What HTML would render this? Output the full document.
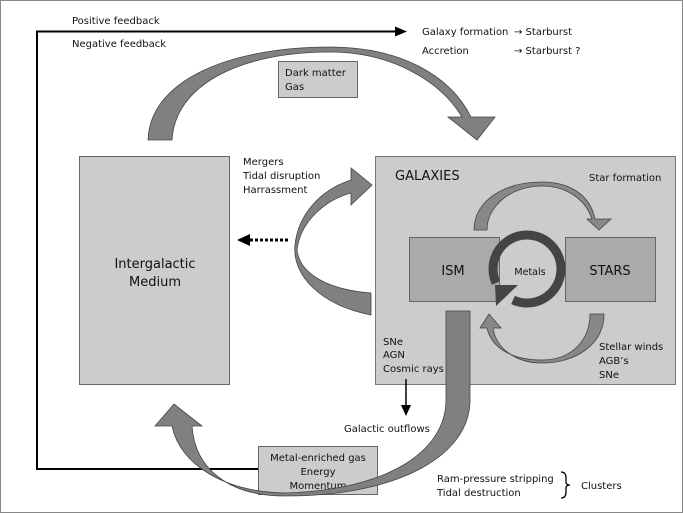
<!DOCTYPE html>
<html><head><meta charset="utf-8"><style>
html,body{margin:0;padding:0;background:#fff;}
svg{display:block;}
text{font-family:"DejaVu Sans","Liberation Sans",sans-serif;fill:#111;}
</style></head><body>
<svg width="684" height="513" viewBox="0 0 684 513" xmlns="http://www.w3.org/2000/svg">
<rect x="0.5" y="0.5" width="682" height="512" fill="#fff" stroke="#888" stroke-width="1"/>
<!-- feedback line -->
<polyline points="258,469 37,469 37,31.5 397,31.5" fill="none" stroke="#000" stroke-width="2"/>
<polygon points="395,26.5 407,31.5 395,36.5" fill="#000"/>
<g font-size="10">
<text x="72" y="24">Positive feedback</text>
<text x="72" y="47">Negative feedback</text>
<text x="422" y="35">Galaxy formation</text>
<text x="514" y="35">→ Starburst</text>
<text x="422" y="54">Accretion</text>
<text x="514" y="54">→ Starburst ?</text>
</g>
<!-- big top arc -->
<path d="M148,140 C150,80 230,47 330,47 C400,47 450,75 471,117 L495,117 L477,140 L448,117 L462,117 C440,80 390,52 330,52 C240,52 175,85 172,140 Z" fill="#808080" stroke="#444" stroke-width="0.8"/>
<rect x="278.5" y="61.5" width="79" height="36" fill="#ccc" stroke="#666"/>
<text x="285" y="76" font-size="10">Dark matter</text>
<text x="285" y="90" font-size="10">Gas</text>
<!-- IGM -->
<rect x="79.5" y="156.5" width="150" height="228" fill="#ccc" stroke="#666"/>
<text x="155" y="268" font-size="13" text-anchor="middle">Intergalactic</text>
<text x="155" y="286" font-size="13" text-anchor="middle">Medium</text>
<g font-size="10">
<text x="243" y="165">Mergers</text>
<text x="243" y="179">Tidal disruption</text>
<text x="243" y="193">Harrassment</text>
</g>
<!-- dotted arrow -->
<line x1="250" y1="240" x2="288" y2="240" stroke="#000" stroke-width="3" stroke-dasharray="3,2"/>
<polygon points="237,240 250,234 250,246" fill="#000"/>
<!-- galaxies -->
<rect x="375.5" y="156.5" width="300" height="228" fill="#ccc" stroke="#777"/>
<!-- left crescent -->
<path d="M371,315 C320,305 292,275 295,245 C298,215 320,190 351,180 L351,168 L372,185 L351,205 L351,193 C325,200 300,222 297,250 C300,275 330,290 371,293 Z" fill="#808080" stroke="#444" stroke-width="0.8"/>
<text x="395" y="180" font-size="13">GALAXIES</text>
<text x="589" y="181" font-size="10">Star formation</text>
<!-- star formation arc -->
<path d="M474,230 C474,200 505,182 542,182 C570,182 590,195 595,219 L611,219 L599,230 L587,219 L592,219 C585,198 565,186 542,186 C512,186 487,205 487,230 Z" fill="#888" stroke="#444" stroke-width="0.8"/>
<rect x="409.5" y="237.5" width="90" height="64" fill="#aaa" stroke="#666"/>
<rect x="565.5" y="237.5" width="90" height="64" fill="#aaa" stroke="#666"/>
<text x="453" y="275" font-size="13" text-anchor="middle">ISM</text>
<text x="610" y="275" font-size="13" text-anchor="middle">STARS</text>
<!-- metals ring -->
<circle cx="529" cy="271" r="29" fill="#ccc"/>
<path d="M496,283 A34,34 0 1 1 513,300" fill="none" stroke="#444" stroke-width="9"/>
<polygon points="495,285 518,285 496,306" fill="#444"/>
<text x="530" y="275" font-size="9.5" text-anchor="middle">Metals</text>
<!-- stellar winds arc -->
<path d="M604,314 C604,345 575,363 542,363 C515,363 496,348 493,328 L501,328 L489,314 L480,328 L487,328 C492,350 515,360 542,360 C572,360 590,340 590,314 Z" fill="#888" stroke="#444" stroke-width="0.8"/>
<g font-size="10">
<text x="599" y="350">Stellar winds</text>
<text x="599" y="364">AGB’s</text>
<text x="599" y="378">SNe</text>
<text x="383" y="345">SNe</text>
<text x="383" y="358">AGN</text>
<text x="383" y="372">Cosmic rays</text>
<text x="344" y="432">Galactic outflows</text>
</g>
<line x1="406" y1="379" x2="406" y2="406" stroke="#000" stroke-width="1.5"/>
<polygon points="401,405 411,405 406,416" fill="#000"/>
<!-- metal-enriched box -->
<rect x="258.5" y="446.5" width="119" height="48" fill="#ccc" stroke="#666"/>
<g font-size="10" text-anchor="middle">
<text x="318" y="461">Metal-enriched gas</text>
<text x="318" y="475">Energy</text>
<text x="318" y="489">Momentum</text>
</g>
<!-- outflow arrow -->
<path d="M446,311 L470,311 L470,400 C470,455 400,496 285,496 C230,496 195,470 192,426 L202,426 L174,404 L155,426 L172,426 C180,465 225,492 285,493 C390,490 446,450 446,400 Z" fill="#808080" stroke="#444" stroke-width="0.8"/>
<g font-size="10">
<text x="437" y="482">Ram-pressure stripping</text>
<text x="437" y="496">Tidal destruction</text>
<text x="581" y="489">Clusters</text>
</g>
<path d="M561,472 Q566,472 566,478 L566,482 Q566,485 570,485 Q566,485 566,488 L566,492 Q566,498 561,498" fill="none" stroke="#000" stroke-width="1.3"/>
</svg>
</body></html>
